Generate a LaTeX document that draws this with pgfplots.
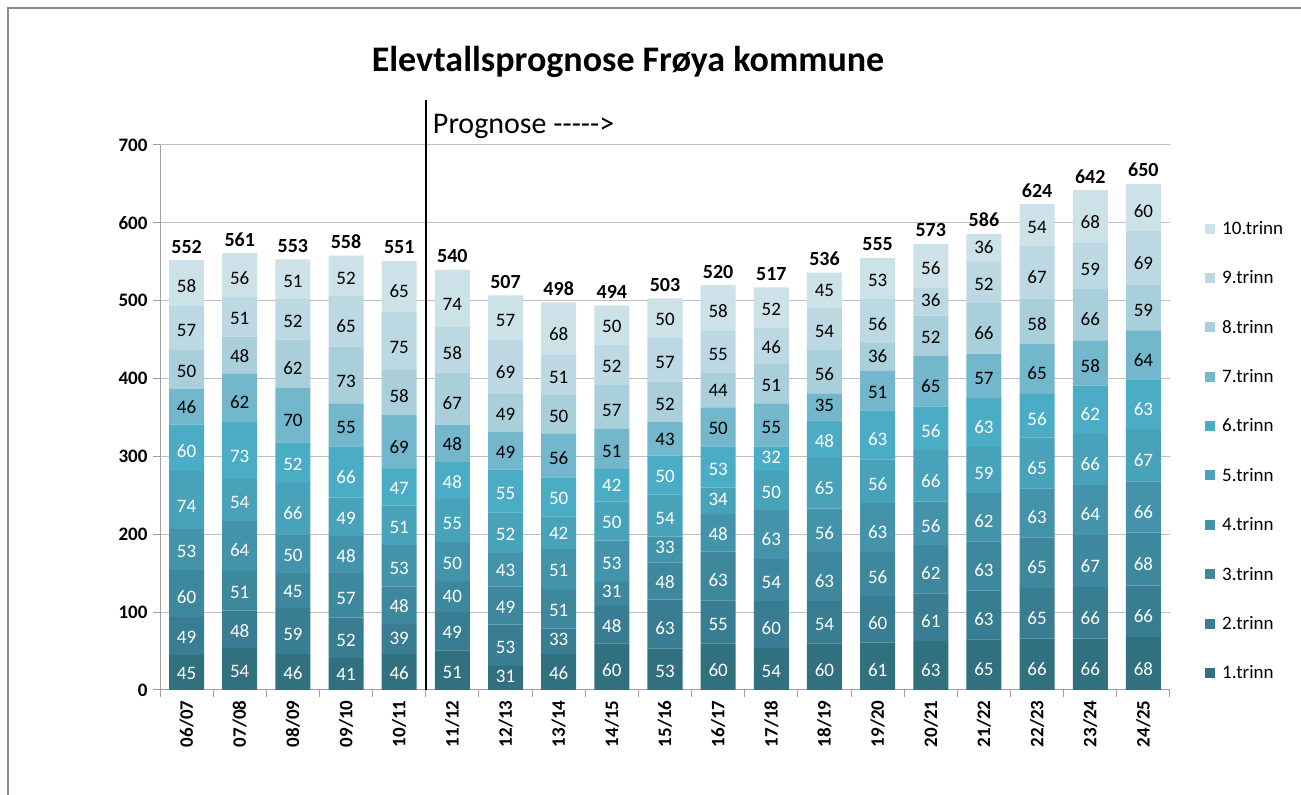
\documentclass[border=0pt]{standalone}
\usepackage{pgfplots}
\pgfplotsset{compat=1.18}
\usepackage{pgfplotstable}
\usepackage{fontspec}
\setmainfont{Carlito}

\definecolor{c1}{HTML}{30707F}
\definecolor{c2}{HTML}{387D91}
\definecolor{c3}{HTML}{3E889E}
\definecolor{c4}{HTML}{4393AA}
\definecolor{c5}{HTML}{47A2BA}
\definecolor{c6}{HTML}{4AACC5}
\definecolor{c7}{HTML}{72B7CB}
\definecolor{c8}{HTML}{A9CFDB}
\definecolor{c9}{HTML}{BCD8E2}
\definecolor{c10}{HTML}{CCE1E8}

\pgfplotstableread{
x t1 t2 t3 t4 t5 t6 t7 t8 t9 t10 total
0 45 49 60 53 74 60 46 50 57 58 552
1 54 48 51 64 54 73 62 48 51 56 561
2 46 59 45 50 66 52 70 62 52 51 553
3 41 52 57 48 49 66 55 73 65 52 558
4 46 39 48 53 51 47 69 58 75 65 551
5 51 49 40 50 55 48 48 67 58 74 540
6 31 53 49 43 52 55 49 49 69 57 507
7 46 33 51 51 42 50 56 50 51 68 498
8 60 48 31 53 50 42 51 57 52 50 494
9 53 63 48 33 54 50 43 52 57 50 503
10 60 55 63 48 34 53 50 44 55 58 520
11 54 60 54 63 50 32 55 51 46 52 517
12 60 54 63 56 65 48 35 56 54 45 536
13 61 60 56 63 56 63 51 36 56 53 555
14 63 61 62 56 66 56 65 52 36 56 573
15 65 63 63 62 59 63 57 66 52 36 586
16 66 65 65 63 65 56 65 58 67 54 624
17 66 66 67 64 66 62 58 66 59 68 642
18 68 66 68 66 67 63 64 59 69 60 650
}\datatable

\pgfplotsset{
  seg/.style={
    nodes near coords,
    point meta=rawy,
    visualization depends on=rawy \as \rawy,
    every node near coord/.style={anchor=center,
      shift={(axis direction cs:0,-\rawy/4)}, yshift=8pt,
      text=#1, font=\fontsize{19}{19}\selectfont},
  },
  sq/.style={legend image code/.code={\fill[##1, draw=none] (0pt,-5pt) rectangle (10pt,5pt);}},
  geom/.style={at={(160pt,105pt)}, anchor=south west,
    scale only axis, width=1010pt, height=545pt,
    xmin=-0.5, xmax=18.5, ymin=0, ymax=700, clip=false,
    /pgf/number format/assume math mode=true},
}

\begin{document}
\begin{tikzpicture}
\useasboundingbox (0pt,0pt) rectangle (1301pt,795pt);
\draw[color=gray!90, line width=1.2pt] (8pt,0pt) -- (8pt,787pt) -- (1301pt,787pt);
\node[font=\bfseries\fontsize{36}{36}\selectfont, anchor=base, inner sep=0pt] at (628pt,723pt) {Elevtallsprognose Frøya kommune};
\begin{axis}[
  geom,
  ybar stacked, bar width=35pt,
  axis x line*=bottom, axis y line*=left,
  axis line style={-, draw=gray!75, line width=1pt},
  tick align=outside,
  major tick length=7pt, minor tick length=7pt,
  xtick={0,...,18},
  xticklabels={06/07,07/08,08/09,09/10,10/11,11/12,12/13,13/14,14/15,15/16,16/17,17/18,18/19,19/20,20/21,21/22,22/23,23/24,24/25},
  every major x tick/.append style={draw=none},
  minor xtick={-0.5,0.5,...,18.5},
  every minor x tick/.append style={draw=gray!75, line width=1pt},
  ytick={0,100,...,700},
  ytick style={draw=gray!75, line width=1pt},
  ymajorgrids, grid style={gray!50, line width=1pt},
  x tick label style={rotate=90, anchor=east, font=\bfseries\fontsize{19}{19}\selectfont},
  y tick label style={font=\bfseries\fontsize{19}{19}\selectfont, xshift=-2pt},
  legend style={at={(1.0347,0.8603)}, anchor=north west, draw=none, fill=none,
    font=\fontsize{19}{19}\selectfont, row sep=34.8pt, inner sep=0pt,
    nodes={inner sep=0pt}, column sep=7pt,
    legend cell align=left},
  reverse legend,
]
\addplot[fill=c1, draw=none, seg=white, sq] table[x=x, y=t1] {\datatable};
\addlegendentry{1.trinn}
\addplot[fill=c2, draw=none, seg=white, sq] table[x=x, y=t2] {\datatable};
\addlegendentry{2.trinn}
\addplot[fill=c3, draw=none, seg=white, sq] table[x=x, y=t3] {\datatable};
\addlegendentry{3.trinn}
\addplot[fill=c4, draw=none, seg=white, sq] table[x=x, y=t4] {\datatable};
\addlegendentry{4.trinn}
\addplot[fill=c5, draw=none, seg=white, sq] table[x=x, y=t5] {\datatable};
\addlegendentry{5.trinn}
\addplot[fill=c6, draw=none, seg=white, sq] table[x=x, y=t6] {\datatable};
\addlegendentry{6.trinn}
\addplot[fill=c7, draw=none, seg=black, sq] table[x=x, y=t7] {\datatable};
\addlegendentry{7.trinn}
\addplot[fill=c8, draw=none, seg=black, sq] table[x=x, y=t8] {\datatable};
\addlegendentry{8.trinn}
\addplot[fill=c9, draw=none, seg=black, sq] table[x=x, y=t9] {\datatable};
\addlegendentry{9.trinn}
\addplot[fill=c10, draw=none, seg=black, sq] table[x=x, y=t10] {\datatable};
\addlegendentry{10.trinn}
\draw[black, line width=1.5pt] (axis cs:4.5,0) -- (axis cs:4.5,758);
\node[anchor=base west, inner sep=0pt, font=\fontsize{30}{30}\selectfont] at ([xshift=7pt]axis cs:4.5,715) {Prognose \mbox{-}\mbox{-}\mbox{-}\mbox{-}\mbox{-}>};
\end{axis}
\begin{axis}[geom, hide axis]
\addplot[draw=none, mark=none, nodes near coords, point meta=explicit,
  every node near coord/.style={anchor=base, yshift=7pt, inner sep=0pt,
    font=\bfseries\fontsize{20}{20}\selectfont, text=black}]
  table[x=x, y=total, meta=total] {\datatable};
\end{axis}
\end{tikzpicture}
\end{document}
